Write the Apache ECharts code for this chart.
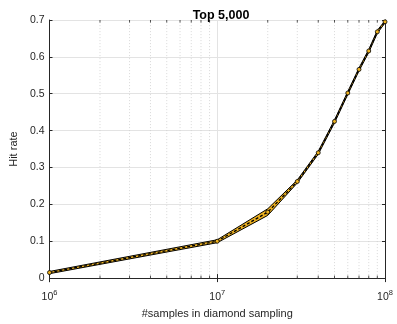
<!DOCTYPE html>
<html>
<head>
<meta charset="utf-8">
<script src="https://cdn.jsdelivr.net/npm/echarts@6/dist/echarts.min.js"></script>
<style>
  html, body { margin: 0; padding: 0; background: #fff; }
  #chart { width: 397px; height: 324px; }
</style>
</head>
<body>
<div id="chart"></div>
<script>
// Number of samples used in diamond sampling
const samples = [1e6, 1e7, 2e7, 3e7, 4e7, 5e7, 6e7, 7e7, 8e7, 9e7, 1e8];
// Hit rate for the top 5,000 entries: mean and spread band
const hitMean  = [0.015, 0.100, 0.179, 0.262, 0.340, 0.425, 0.502, 0.566, 0.616, 0.668, 0.695];
const hitUpper = [0.018, 0.104, 0.188, 0.266, 0.344, 0.429, 0.506, 0.570, 0.620, 0.672, 0.698];
const hitLower = [0.012, 0.096, 0.170, 0.258, 0.336, 0.421, 0.498, 0.562, 0.612, 0.664, 0.692];
// Axis ticks
const yTicks = [0, 0.1, 0.2, 0.3, 0.4, 0.5, 0.6, 0.7];
const decades = [1e6, 1e7];
const minorSteps = [2, 3, 4, 5, 6, 7, 8, 9];

const ink = '#262626';
const gold = '#EDB120';
const font = 'Liberation Sans, Arial, Helvetica, sans-serif';

const pair = (ys) => samples.map((x, i) => [x, ys[i]]);
const minorX = [];
decades.forEach(d => minorSteps.forEach(m => minorX.push(d * m)));
const yMin = yTicks[0], yMax = yTicks[yTicks.length - 1];

const chart = echarts.init(document.getElementById('chart'), null, { renderer: 'canvas' });

const logAxisBase = {
  type: 'log',
  logBase: 10,
  min: samples[0],
  max: samples[samples.length - 1],
  axisLine: { show: true, lineStyle: { color: ink, width: 1 } },
  axisTick: { show: true, inside: true, length: 4, lineStyle: { color: ink } }
};

chart.setOption({
  animation: false,
  backgroundColor: '#fff',
  title: {
    text: 'Top 5,000',
    left: 216, top: 4,
    textAlign: 'center',
    textStyle: { fontFamily: font, fontSize: 12.5, fontWeight: 'bold', color: '#000' }
  },
  grid: { left: 49, right: 12, top: 20, bottom: 42, containLabel: false },
  xAxis: [
    Object.assign({}, logAxisBase, {
      position: 'bottom',
      name: '#samples in diamond sampling',
      nameLocation: 'middle',
      nameGap: 27,
      nameTextStyle: { fontFamily: font, fontSize: 11, color: ink },
      splitLine: { show: true, lineStyle: { color: '#e3e3e3', width: 1 } },
      axisLabel: {
        margin: 8,
        formatter: (v) => '{b|10}{s|' + Math.round(Math.log10(v)) + '}',
        rich: {
          b: { fontFamily: font, fontSize: 10.5, color: ink, padding: [6, 0, 0, 0] },
          s: { fontFamily: font, fontSize: 7.5, color: ink, padding: [0, 0, 4, 0] }
        }
      }
    }),
    Object.assign({}, logAxisBase, {
      position: 'top',
      axisLabel: { show: false },
      splitLine: { show: false }
    })
  ],
  yAxis: [
    {
      type: 'value',
      position: 'left',
      min: yMin, max: yMax, interval: 0.1,
      name: 'Hit rate',
      nameLocation: 'middle',
      nameGap: 28,
      nameTextStyle: { fontFamily: font, fontSize: 11, color: ink },
      axisLine: { show: true, lineStyle: { color: ink, width: 1 } },
      axisTick: { show: true, inside: true, length: 3, lineStyle: { color: ink } },
      splitLine: { show: true, lineStyle: { color: '#e3e3e3', width: 1 } },
      axisLabel: {
        margin: 5,
        fontFamily: font, fontSize: 10.5, color: ink,
        formatter: (v) => v === 0 ? '0' : v.toFixed(1)
      }
    },
    {
      type: 'value',
      position: 'right',
      min: yMin, max: yMax, interval: 0.1,
      axisLine: { show: true, lineStyle: { color: ink, width: 1 } },
      axisTick: { show: true, inside: true, length: 3, lineStyle: { color: ink } },
      splitLine: { show: false },
      axisLabel: { show: false }
    }
  ],
  series: [
    {
      // dotted minor grid and short minor ticks on the bottom and top edges
      name: 'minorGrid',
      type: 'custom',
      silent: true,
      z: 1,
      data: minorX.map(x => [x]),
      renderItem: (params, api) => {
        const x = api.value(0);
        const b = api.coord([x, yMin]);
        const t = api.coord([x, yMax]);
        return {
          type: 'group',
          children: [
            { type: 'line', shape: { x1: b[0], y1: b[1], x2: t[0], y2: t[1] },
              style: { stroke: '#cfcfcf', lineWidth: 0.8, lineDash: [1, 2] } },
            { type: 'line', shape: { x1: b[0], y1: b[1], x2: b[0], y2: b[1] - 2.5 },
              style: { stroke: ink, lineWidth: 0.8 } },
            { type: 'line', shape: { x1: t[0], y1: t[1], x2: t[0], y2: t[1] + 2.5 },
              style: { stroke: ink, lineWidth: 0.8 } }
          ]
        };
      }
    },
    {
      // filled spread band between lower and upper hit rate
      name: 'band',
      type: 'custom',
      silent: true,
      z: 2,
      data: samples.map((x, i) => [x, hitLower[i], hitUpper[i]]),
      renderItem: (params, api) => {
        if (params.dataIndex !== 0) return null;
        const pts = [];
        samples.forEach((x, i) => pts.push(api.coord([x, hitUpper[i]])));
        for (let i = samples.length - 1; i >= 0; i--) pts.push(api.coord([samples[i], hitLower[i]]));
        return { type: 'polygon', shape: { points: pts }, style: { fill: gold } };
      }
    },
    {
      name: 'upper',
      type: 'line',
      data: pair(hitUpper),
      symbol: 'none',
      lineStyle: { color: '#000', width: 1 },
      z: 3
    },
    {
      name: 'lower',
      type: 'line',
      data: pair(hitLower),
      symbol: 'none',
      lineStyle: { color: '#000', width: 1 },
      z: 3
    },
    {
      name: 'mean',
      type: 'line',
      data: pair(hitMean),
      symbol: 'circle',
      symbolSize: 4,
      showAllSymbol: true,
      itemStyle: { color: gold, borderColor: '#000', borderWidth: 0.8 },
      lineStyle: { color: '#000', width: 1.3, type: [3, 2] },
      z: 4
    }
  ]
});
</script>
</body>
</html>
